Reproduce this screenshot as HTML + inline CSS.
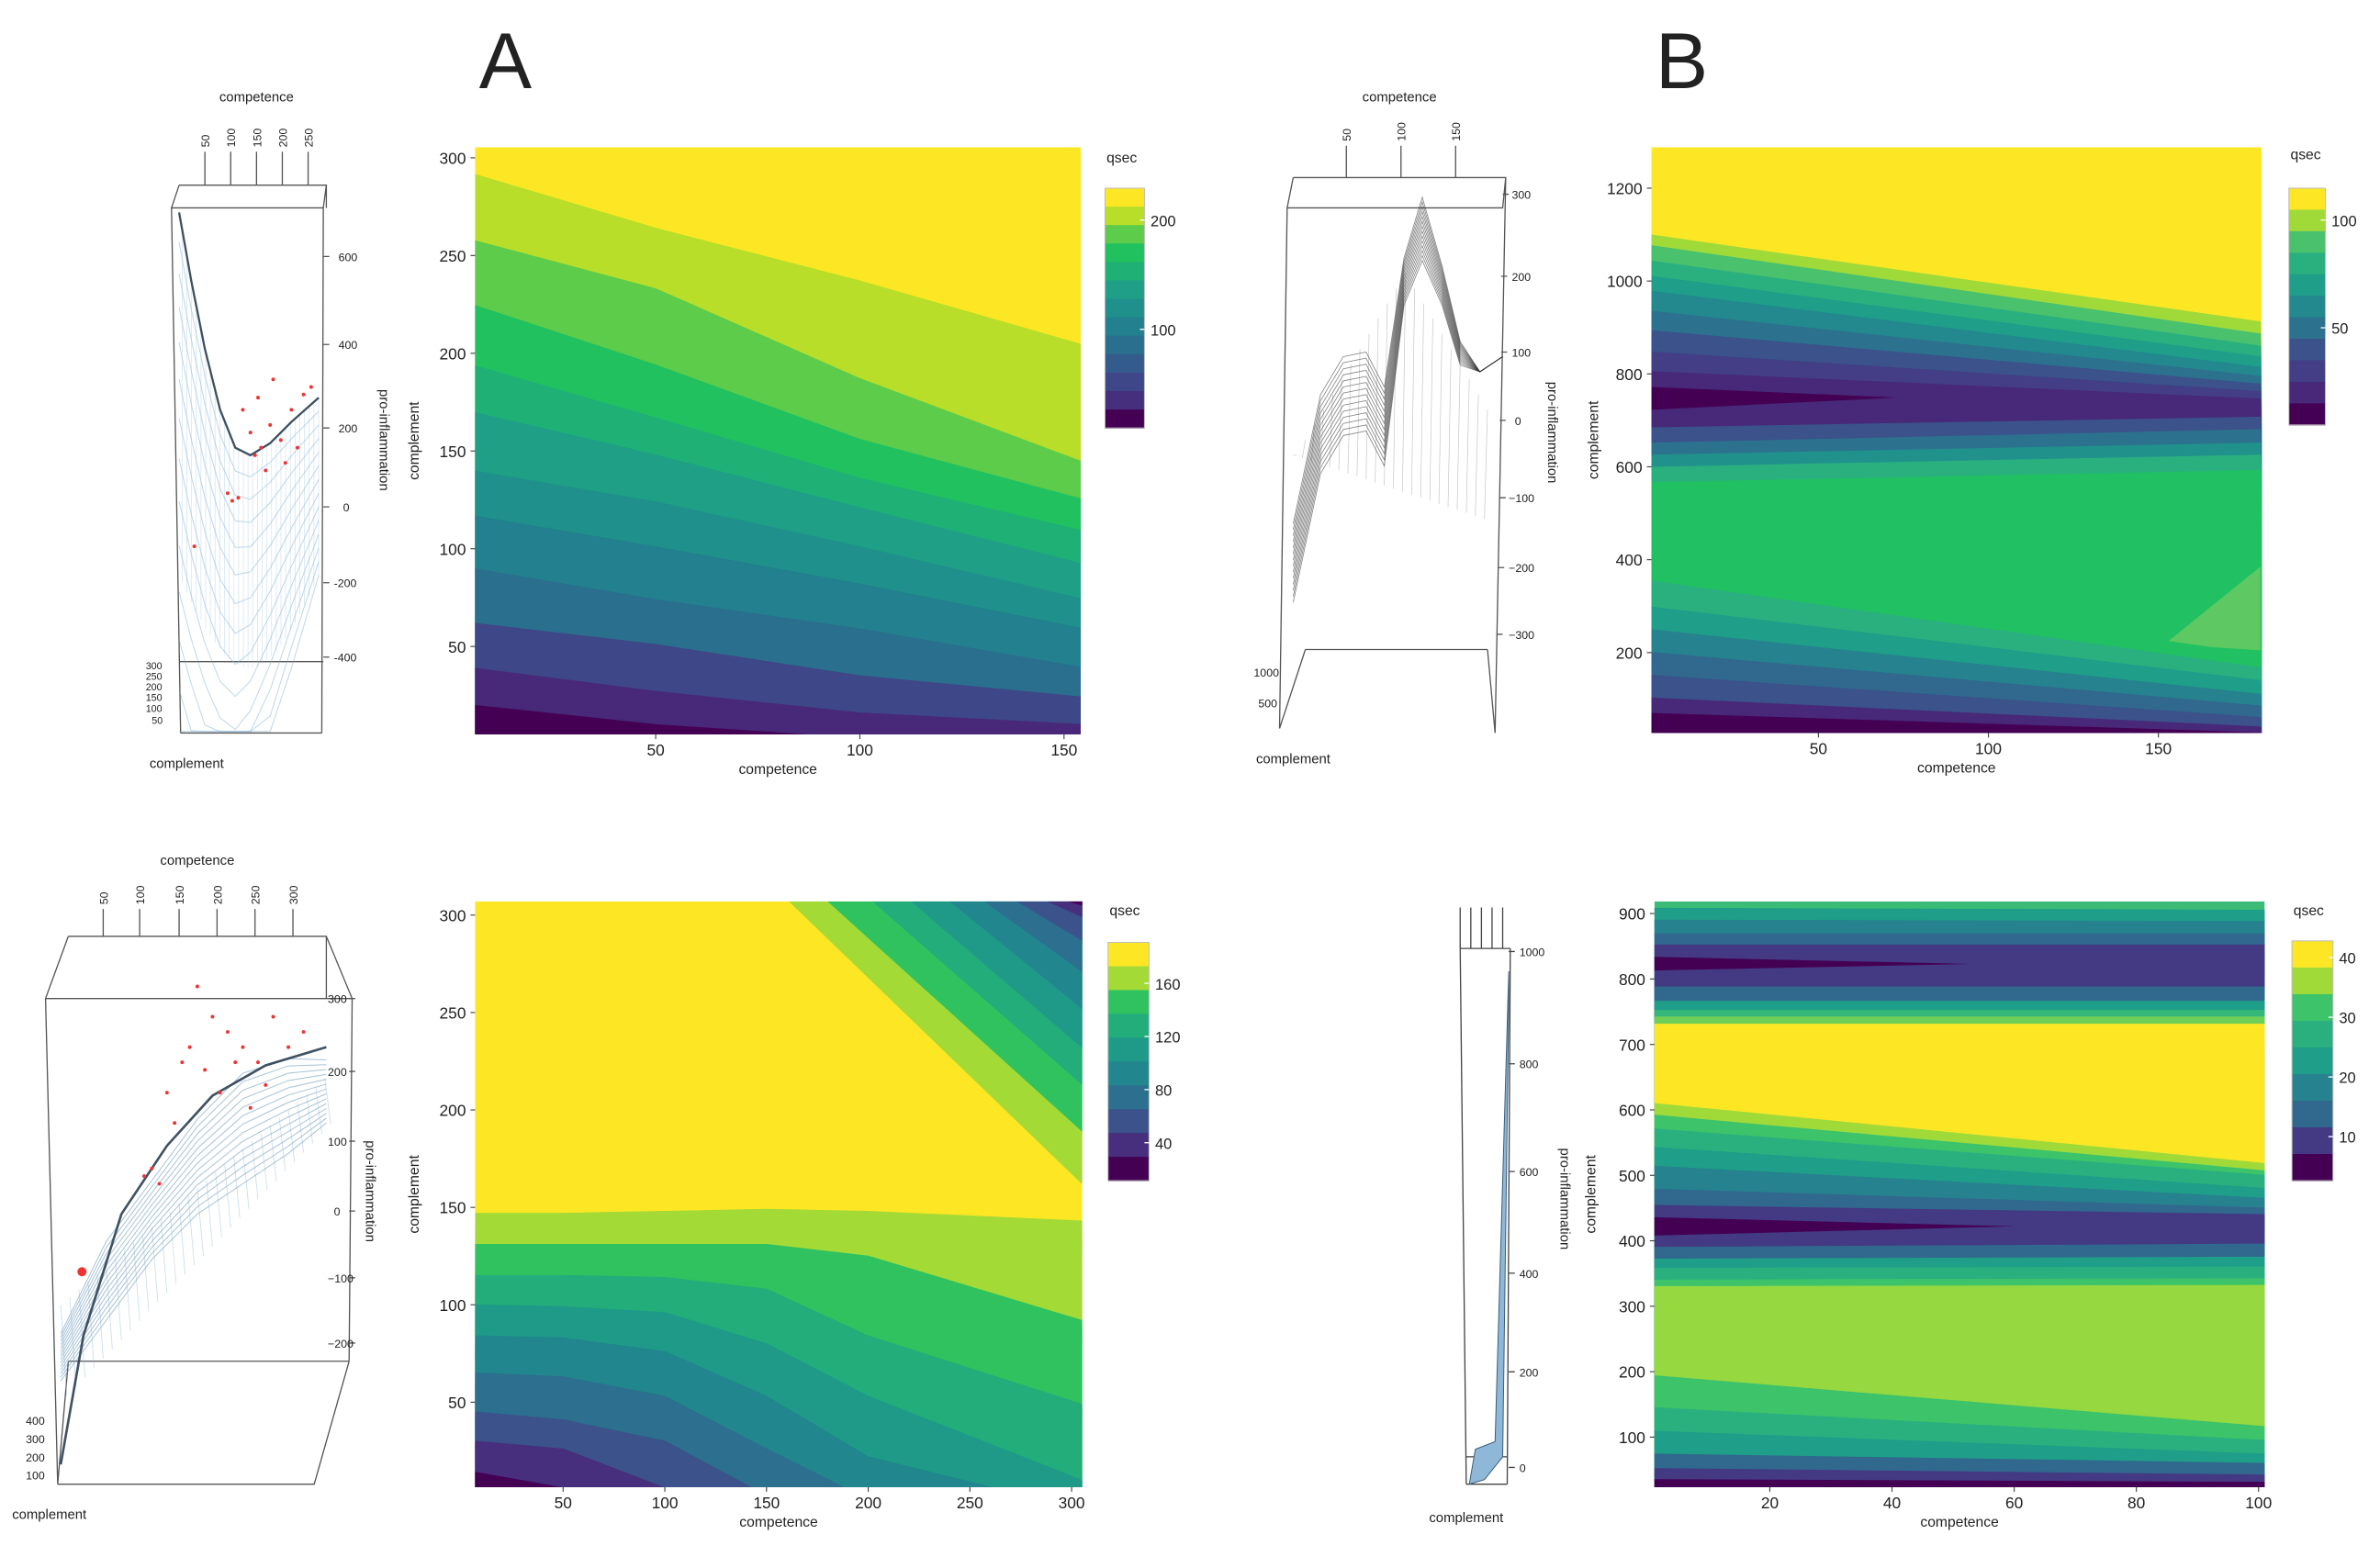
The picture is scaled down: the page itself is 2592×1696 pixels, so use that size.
<!DOCTYPE html>
<html><head><meta charset="utf-8"><style>
html,body{margin:0;padding:0;background:#fff;}
svg{display:block;}
text{font-family:"Liberation Sans",sans-serif;fill:#222;}
</style></head><body>
<svg id="fig" xmlns="http://www.w3.org/2000/svg" width="2592" height="1696" viewBox="0 0 1568 1026" preserveAspectRatio="none">
<rect x="0" y="0" width="1568" height="1026" fill="#fff"/>
<text x="333" y="58" font-size="52" text-anchor="middle">A</text>
<text x="1108" y="58" font-size="52" text-anchor="middle">B</text>

<g id="s3a1">
<text x="169" y="67" font-size="9" text-anchor="middle">competence</text>
<g font-size="7.5">
<text transform="translate(138,97) rotate(-90)">50</text>
<text transform="translate(155,97) rotate(-90)">100</text>
<text transform="translate(172,97) rotate(-90)">150</text>
<text transform="translate(189,97) rotate(-90)">200</text>
<text transform="translate(206,97) rotate(-90)">250</text>
</g>
<g stroke="#555" stroke-width="0.8" fill="none">
<path d="M135 100V122M152 100V122M169 100V122M186 100V122M203 100V122"/>
<path d="M118 122H215L213 137H113L118 122M113 137L119 483M213 137L212 483M118 436H213M119 483H212M215 122V137"/>
<path d="M213 169h4M213 227h4M213 282h4M213 334h4M213 384h4M213 433h4"/>
</g>
<g font-size="7.5">
<text x="223" y="172">600</text>
<text x="223" y="230">400</text>
<text x="223" y="285">200</text>
<text x="226" y="337">0</text>
<text x="220" y="387">-200</text>
<text x="220" y="436">-400</text>
</g>
<text transform="translate(250,290) rotate(90)" font-size="9" text-anchor="middle">pro-inflammation</text>
<g font-size="6.5">
<text x="96" y="441">300</text>
<text x="96" y="448">250</text>
<text x="96" y="455">200</text>
<text x="96" y="462">150</text>
<text x="96" y="469">100</text>
<text x="100" y="477">50</text>
</g>
<text x="123" y="506" font-size="9" text-anchor="middle">complement</text>
</g>

<g id="s3b1">
<text x="922" y="67" font-size="9" text-anchor="middle">competence</text>
<g font-size="7.5">
<text transform="translate(890,93) rotate(-90)">50</text>
<text transform="translate(926,93) rotate(-90)">100</text>
<text transform="translate(962,93) rotate(-90)">150</text>
</g>
<g stroke="#555" stroke-width="0.8" fill="none">
<path d="M887 96V117M923 96V117M959 96V117"/>
<path d="M852 117H992L990 137H848L852 117M848 137L843 480M992 117L985 483M860 428H980M843 480L860 428M980 428L985 483"/>
<path d="M990 128h4M989 182h4M989 232h4M988 277h4M988 328h4M987 374h4M986 418h4"/>
</g>
<g font-size="7.5">
<text x="996" y="131">300</text>
<text x="996" y="185">200</text>
<text x="996" y="235">100</text>
<text x="998" y="280">0</text>
<text x="994" y="331">−100</text>
<text x="994" y="377">−200</text>
<text x="994" y="421">−300</text>
</g>
<text transform="translate(1020,285) rotate(90)" font-size="9" text-anchor="middle">pro-inflammation</text>
<text x="826" y="446" font-size="7.5">1000</text>
<text x="829" y="466" font-size="7.5">500</text>
<text x="852" y="503" font-size="9" text-anchor="middle">complement</text>
</g>

<g id="s3a2">
<text x="130" y="570" font-size="9" text-anchor="middle">competence</text>
<g font-size="7.5">
<text transform="translate(71,596) rotate(-90)">50</text>
<text transform="translate(95,596) rotate(-90)">100</text>
<text transform="translate(121,596) rotate(-90)">150</text>
<text transform="translate(146,596) rotate(-90)">200</text>
<text transform="translate(171,596) rotate(-90)">250</text>
<text transform="translate(196,596) rotate(-90)">300</text>
</g>
<g stroke="#555" stroke-width="0.8" fill="none">
<path d="M68 599V617M92 599V617M118 599V617M143 599V617M168 599V617M193 599V617"/>
<path d="M45 617H215L232 658H30L45 617M30 658L38 978M232 658L230 897M45 897H230M38 978H207L230 897M38 978L45 897M215 617V658"/>
<path d="M230 658h4M230 706h4M230 752h4M230 798h4M230 842h4M230 885h4"/>
</g>
<g font-size="7.5">
<text x="216" y="661">300</text>
<text x="216" y="709">200</text>
<text x="216" y="755">100</text>
<text x="220" y="801">0</text>
<text x="216" y="845">−100</text>
<text x="216" y="888">−200</text>
</g>
<text transform="translate(241,785) rotate(90)" font-size="9" text-anchor="middle">pro-inflammation</text>
<g font-size="7.5">
<text x="17" y="939">400</text>
<text x="17" y="951">300</text>
<text x="17" y="963">200</text>
<text x="17" y="975">100</text>
</g>
<text x="8" y="1001" font-size="9">complement</text>
</g>

<g id="s3b2">
<g stroke="#444" stroke-width="0.8" fill="none">
<path d="M962 598V625M969 598V625M976 598V625M983 598V625M990 598V625"/>
<path d="M962 625H995M962 625L966 978M995 625L993 978M966 978H993M966 960H993"/>
<path d="M994 627h4M994 701h4M994 772h4M994 839h4M994 904h4M994 967h4"/>
</g>
<path d="M968 978L972 955L985 950L994 640L994 660L990 960L978 975Z" fill="#8fb8d8" stroke="#3a5d7a" stroke-width="0.6"/>
<g font-size="7.5">
<text x="1001" y="630">1000</text>
<text x="1001" y="704">800</text>
<text x="1001" y="775">600</text>
<text x="1001" y="842">400</text>
<text x="1001" y="907">200</text>
<text x="1001" y="970">0</text>
</g>
<text transform="translate(1028,790) rotate(90)" font-size="9" text-anchor="middle">pro-inflammation</text>
<text x="966" y="1003" font-size="9" text-anchor="middle">complement</text>
</g>

<g id="charts"></g>
</svg>
<script>
const aTopXs = [5, 50, 100, 155];
const aTopBounds = [
 [292,264,237,204],[258,233,187,144],[225,194,156,125],[194,167,136,109],
 [170,148,121,92],[140,124,101,74],[117,101,82,59],[90,74,59,39],
 [62,51,35,24],[39,27,16,10],[20,10,3,0]];
const aTopColors = ["#b8de29","#5ccc4a","#22c160","#1fb076","#1e9f86","#20908c","#23808e","#2a6f8e","#3e4788","#482878","#440154"];
const aTopXTicks = [50,100,150];
const aTopYTicks = [50,100,150,200,250,300];
const aTopBarColors = ["#fde725","#b8de29","#5ccc4a","#22c160","#1fb076","#1e9f86","#20908c","#23808e","#2a6f8e","#335c8c","#3e4788","#46307e","#440154"];
const aTopBarTicks = [100,200];

const aBotXs = [7, 50, 100, 150, 200, 305];
const aBotBounds = [
 [147,147,148,149,148,143],[131,131,131,131,125,92],[115,115,114,108,84,49],
 [100,99,96,80,53,10],[84,83,76,53,22,-5],[65,63,53,26,0,-10],
 [45,41,30,2,-10,-10],[30,26,6,-10,-10,-10],[14,6,-1,-10,-10,-10]];
const aBotColors = ["#a4da36","#2fc25f","#22ad7a","#1f9a88","#21868d","#2c6f8e","#3b528b","#472f7d","#440154"];
const aBotDiagStartX = [161,180,202,221,240,257,273,288,298];
const aBotDiagEndC = [162,189,213,232,252,271,287,299,305];
const aBotDiagColors = ["#a4da36","#2fc25f","#22ad7a","#1f9a88","#21868d","#2c6f8e","#3b528b","#472f7d","#440154"];
const aBotXTicks = [50,100,150,200,250,300];
const aBotYTicks = [50,100,150,200,250,300];
const aBotBarColors = ["#fde725","#a4da36","#2fc25f","#22ad7a","#1f9a88","#21868d","#2c6f8e","#3b528b","#472f7d","#440154"];
const aBotBarTicks = [40,80,120,160];

const bTopXs = [1, 180];
const bTopBounds = [
 [1099,912],[1076,886],[1043,860],[1010,837],[978,814],[935,795],[893,778],[847,762],[805,746],
 [684,707],[651,680],[625,651],[599,625],[566,592],
 [354,167],[298,140],[249,110],[200,85],[151,60],[102,40],[69,27]];
const bTopColors = ["#a0da39","#4ac16d","#2ab07f","#1f9e89","#23898e","#2c728e","#3b528b","#433e85","#482878",
 "#3b528b","#2c728e","#21918c","#2ab07f","#21c062",
 "#2ab07f","#1f9e89","#26828e","#31688e","#3b528b","#482878","#440154"];
const bTopWedgeDark = [[1,772],[73,749],[1,723]];
const bTopWedgeGreen = [[180,385],[153,225],[165,212],[180,205]];
const bTopXTicks = [50,100,150];
const bTopYTicks = [200,400,600,800,1000,1200];
const bTopBarColors = ["#fde725","#a0da39","#4ac16d","#2ab07f","#1f9e89","#23898e","#2c728e","#3b528b","#433e85","#482878","#440154"];
const bTopBarTicks = [50,100];

const bBotXs = [1, 101];
const bBotBounds = [
 [908,905],[890,888],[869,869],[852,852],[788,788],[766,766],[752,752],[742,742],[731,731],
 [610,518],[592,507],[571,500],[543,480],[514,465],[479,450],[454,440],[390,395],[372,375],[358,360],[340,342],[330,332],
 [194,116],[145,95],[109,74],[74,60],[52,42],[35,31]];
const bBotColors = ["#1f9e89","#26828e","#31688e","#443983","#31688e","#1f9e89","#35b779","#6ece58","#fde725",
 "#a0da39","#3dc36a","#2ab07f","#1f9e89","#26828e","#31688e","#443983","#31688e","#1f9e89","#2ab07f","#3dc36a","#95d840",
 "#3dc36a","#2ab07f","#1f9e89","#31688e","#443983","#440154"];
const bBotWedges = [[[1,834],[53,823],[1,813]],[[1,436],[60,422],[1,408]]];
const bBotXTicks = [20,40,60,80,100];
const bBotYTicks = [100,200,300,400,500,600,700,800,900];
const bBotBarColors = ["#fde725","#a0da39","#3dc36a","#2ab07f","#1f9e89","#26828e","#31688e","#443983","#440154"];
const bBotBarTicks = [10,20,30,40];

const NS = "http://www.w3.org/2000/svg";
const root = document.getElementById("charts");
function el(tag, parent){ const e=document.createElementNS(NS,tag); parent.appendChild(e); return e; }
function lin(d0,p0,d1,p1){ const k=(p1-p0)/(d1-d0); return v=>p0+(v-d0)*k; }

function panel(id, cfg){
  const g = el("g", root);
  
  
  const r = cfg.rect, X = cfg.x, Y = cfg.y;
  const cp = el("clipPath", g); cp.setAttribute("id", id+"-clip");
  const cr = el("rect", cp); cr.setAttribute("x",r[0]); cr.setAttribute("y",r[1]); cr.setAttribute("width",r[2]-r[0]); cr.setAttribute("height",r[3]-r[1]);
  const pg = el("g", g); pg.setAttribute("clip-path","url(#"+id+"-clip)");
  
  
  const base = el("rect", pg);
  
  
  base.setAttribute("x",r[0]); base.setAttribute("y",r[1]); base.setAttribute("width",r[2]-r[0]); base.setAttribute("height",r[3]-r[1]); base.setAttribute("fill",cfg.topColor);
  cfg.bounds.forEach((b,i)=>{
    const pts = cfg.xs.map((xv,j)=>X(xv).toFixed(1)+","+Y(b[j]).toFixed(1));
    pts.push((r[2]+5)+","+(r[3]+5)); pts.push((r[0]-5)+","+(r[3]+5));
    const p = el("polygon", pg);
    
    
    p.setAttribute("points", pts.join(" ")); p.setAttribute("fill", cfg.colors[i]);
    p.setAttribute("stroke", cfg.colors[i]); p.setAttribute("stroke-width","0.6");
  });
  (cfg.extras||[]).forEach(ex=>{
    const p = el("polygon", pg);
    
    
    p.setAttribute("points", ex.pts.map(q=>X(q[0]).toFixed(1)+","+Y(q[1]).toFixed(1)).join(" "));
    p.setAttribute("fill", ex.color);
  });
  cfg.xTicks.forEach(t=>{
    const tl = el("line", g);
    
    
    tl.setAttribute("x1",X(t)); tl.setAttribute("x2",X(t)); tl.setAttribute("y1",r[3]); tl.setAttribute("y2",r[3]+3); tl.setAttribute("stroke","#444"); tl.setAttribute("stroke-width","0.7");
    const tx = el("text", g);
    
    
    tx.setAttribute("x",X(t)); tx.setAttribute("y",r[3]+14); tx.setAttribute("font-size","10.5"); tx.setAttribute("text-anchor","middle"); tx.textContent=t;
  });
  cfg.yTicks.forEach(t=>{
    const tl = el("line", g);
    
    
    tl.setAttribute("x1",r[0]-3); tl.setAttribute("x2",r[0]); tl.setAttribute("y1",Y(t)); tl.setAttribute("y2",Y(t)); tl.setAttribute("stroke","#444"); tl.setAttribute("stroke-width","0.7");
    const tx = el("text", g);
    
    
    tx.setAttribute("x",r[0]-6); tx.setAttribute("y",Y(t)+4); tx.setAttribute("font-size","10.5"); tx.setAttribute("text-anchor","end"); tx.textContent=t;
  });
  const xl = el("text", g);
  
  
  xl.setAttribute("x",(r[0]+r[2])/2); xl.setAttribute("y",r[3]+26); xl.setAttribute("font-size","9.5"); xl.setAttribute("text-anchor","middle"); xl.textContent="competence";
  const yl = el("text", g);
  
  
  yl.setAttribute("transform","translate("+(cfg.yTitleX)+","+((r[1]+r[3])/2)+") rotate(-90)"); yl.setAttribute("font-size","9.5"); yl.setAttribute("text-anchor","middle"); yl.textContent="complement";
  const cb = cfg.bar, n = cfg.barColors.length, h=(cb[3]-cb[1])/n;
  const cbg = el("g", g);
  
  
  cfg.barColors.forEach((c,i)=>{
    const br = el("rect", cbg);
    
    
    br.setAttribute("x",cb[0]); br.setAttribute("y",cb[1]+i*h); br.setAttribute("width",cb[2]-cb[0]); br.setAttribute("height",h+0.4); br.setAttribute("fill",c);
  });
  const bo = el("rect", cbg);
  
  
  bo.setAttribute("x",cb[0]); bo.setAttribute("y",cb[1]); bo.setAttribute("width",cb[2]-cb[0]); bo.setAttribute("height",cb[3]-cb[1]); bo.setAttribute("fill","none"); bo.setAttribute("stroke","#bbb"); bo.setAttribute("stroke-width","0.6");
  const BS = lin(cfg.barScale[0],cfg.barScale[1],cfg.barScale[2],cfg.barScale[3]);
  cfg.barTicks.forEach(t=>{
    const tl = el("line", cbg);
    
    
    tl.setAttribute("x1",cb[2]-3); tl.setAttribute("x2",cb[2]); tl.setAttribute("y1",BS(t)); tl.setAttribute("y2",BS(t)); tl.setAttribute("stroke","#fff"); tl.setAttribute("stroke-width","0.8");
    const tx = el("text", cbg);
    
    
    tx.setAttribute("x",cb[2]+4); tx.setAttribute("y",BS(t)+4); tx.setAttribute("font-size","10"); tx.textContent=t;
  });
  const qt = el("text", cbg);
  
  
  qt.setAttribute("x",cb[0]+1); qt.setAttribute("y",cfg.qsecY); qt.setAttribute("font-size","9.5"); qt.textContent="qsec";
}

panel("a-top",{rect:[313,97,712,484], x:lin(50,432,150,701), y:lin(300,104,50,426),
  xs:aTopXs, bounds:aTopBounds, colors:aTopColors, topColor:"#fde725",
  xTicks:aTopXTicks, yTicks:aTopYTicks, yTitleX:276,
  bar:[728,124,754,282], barColors:aTopBarColors, barTicks:aTopBarTicks, barScale:[200,145,100,217], qsecY:107});

(function(){
  const X = lin(50,371,300,706), Y = lin(300,603,50,924);
  const extras = aBotDiagStartX.map((sx,i)=>({pts:[[sx,307],[320,307],[320,aBotDiagEndC[i]-(aBotDiagEndC[i]-307)*((320-305)/(sx-305))],[305,aBotDiagEndC[i]]], color:aBotDiagColors[i]}));
  panel("a-bottom",{rect:[313,594,713,980], x:X, y:Y,
    xs:aBotXs, bounds:aBotBounds, colors:aBotColors, topColor:"#fde725", extras:extras,
    xTicks:aBotXTicks, yTicks:aBotYTicks, yTitleX:276,
    bar:[730,621,757,778], barColors:aBotBarColors, barTicks:aBotBarTicks, barScale:[160,648,40,753], qsecY:603});
})();

panel("b-top",{rect:[1088,97,1490,483], x:lin(50,1198,150,1422), y:lin(1200,124,200,430),
  xs:bTopXs, bounds:bTopBounds, colors:bTopColors, topColor:"#fde725",
  extras:[{pts:bTopWedgeDark,color:"#440154"},{pts:bTopWedgeGreen,color:"#5ec962"}],
  xTicks:bTopXTicks, yTicks:bTopYTicks, yTitleX:1053,
  bar:[1508,124,1532,280], barColors:bTopBarColors, barTicks:bTopBarTicks, barScale:[100,145,50,216], qsecY:105});

panel("b-bottom",{rect:[1090,594,1492,980], x:lin(20,1166,100,1488), y:lin(900,602,100,947),
  xs:bBotXs, bounds:bBotBounds, colors:bBotColors, topColor:"#3bbb75",
  extras:bBotWedges.map(w=>({pts:w,color:"#440154"})),
  xTicks:bBotXTicks, yTicks:bBotYTicks, yTitleX:1051,
  bar:[1510,620,1537,778], barColors:bBotBarColors, barTicks:bBotBarTicks, barScale:[40,631,10,749], qsecY:603});

function meshLines(parent, n, fn, color, width, op, name){
  for(let k=0;k<n;k++){
    const p = el("polyline", parent);
    
    
    p.setAttribute("points", fn(k)); p.setAttribute("fill","none");
    p.setAttribute("stroke", color); p.setAttribute("stroke-width", width); p.setAttribute("stroke-opacity", op);
  }
}
const edgeA1 = [[118,140],[126,185],[135,230],[145,270],[155,295],[165,300],[178,292],[192,278],[210,262]];
const s3a1 = document.getElementById("s3a1");
meshLines(s3a1, 14, k=>edgeA1.map(q=>{ const f=(q[0]-118)/92; return q[0]+","+Math.min(482, q[1]+k*(9+10*(1-f))+k*k*0.6*(1-f)).toFixed(1); }).join(" "), "#6fa5cf", 0.6, 0.45, "mesh-line");
meshLines(s3a1, 30, k=>{ const x=120+k*3.1; let i=0; while(i<edgeA1.length-2 && edgeA1[i+1][0]<x) i++; const a=edgeA1[i], b=edgeA1[i+1]; const y0=a[1]+(b[1]-a[1])*(x-a[0])/(b[0]-a[0]); const yb=Math.min(482, 380+60*Math.sin((x-118)/92*Math.PI)); return x+","+y0.toFixed(1)+" "+x+","+Math.min(482,Math.max(y0+20,yb)).toFixed(1); }, "#9cc3e0", 0.5, 0.4, "mesh-line");
meshLines(s3a1, 1, k=>edgeA1.map(q=>q.join(",")).join(" "), "#2b3f52", 1.4, 0.9, "surface-edge");
const s3b1 = document.getElementById("s3b1");
meshLines(s3b1, 14, k=>{ const o=k*4; return [[852,345+o],[870,260+o],[885,235+o],[900,232+o],[912,255+o],[925,170+o*0.6],[937,130+o*0.8],[950,175+o*0.5],[962,225+o*0.3],[975,245],[990,235]].map(q=>q.join(",")).join(" "); }, "#333", 0.5, 0.6, "mesh-line");
meshLines(s3b1, 22, k=>{ const x=854+k*6; return x+","+(180+Math.abs(k-12)*10)+" "+(x-2)+","+(300+k*2); }, "#555", 0.4, 0.35, "mesh-line");
const s3a2 = document.getElementById("s3a2");
meshLines(s3a2, 14, k=>{ const o=k*8; return [[40,870-o*0.3],[70,830-o*0.5],[100,790-o*0.5],[130,760-o*0.6],[160,740-o*0.7],[190,720-o*0.6],[215,700-o*0.4]].map(q=>q[0]+","+(q[1]+40).toFixed(1)).join(" "); }, "#5f8fb4", 0.6, 0.55, "mesh-line");
meshLines(s3a2, 30, k=>{ const x=40+k*6; const t=(x-40)/175; return x+","+(860-150*t).toFixed(1)+" "+(x+4)+","+(920-180*t).toFixed(1); }, "#8ab4d4", 0.5, 0.45, "mesh-line");
meshLines(s3a2, 1, k=>"40,965 55,880 80,800 110,755 140,722 175,702 215,690", "#2b3f52", 1.6, 0.9, "surface-edge");
const scatterA1 = [[160,270],[170,262],[178,280],[185,290],[192,270],[200,260],[168,300],[175,310],[188,305],[196,295],[150,325],[153,330],[157,328],[180,250],[205,255],[128,360],[165,285],[172,295]];
scatterA1.forEach(p=>{ const c=el("circle", s3a1);
  
  
  c.setAttribute("cx",p[0]); c.setAttribute("cy",p[1]); c.setAttribute("r",1.2); c.setAttribute("fill","#e33"); });
const scatterA2 = [[130,650],[140,670],[150,680],[160,690],[170,700],[180,670],[190,690],[200,680],[120,700],[110,720],[100,770],[95,775],[105,780],[115,740],[145,720],[165,730],[175,715],[125,690],[135,705],[155,700],[54,838]];
scatterA2.forEach(p=>{ const c=el("circle", s3a2);
  
  
  c.setAttribute("cx",p[0]); c.setAttribute("cy",p[1]); c.setAttribute("r",p[0]===54?3:1.2); c.setAttribute("fill","#e33"); });
</script>
</body></html>
